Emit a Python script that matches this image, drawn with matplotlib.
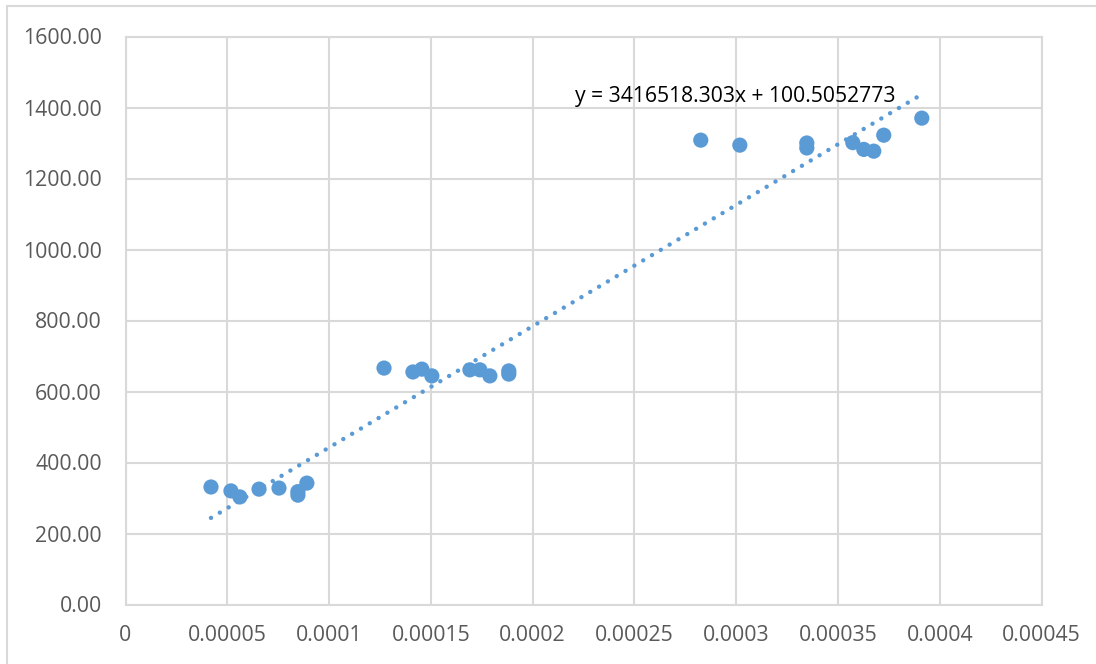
import numpy as np
import matplotlib
matplotlib.use("Agg")
import matplotlib.pyplot as plt
from matplotlib.patches import Rectangle

# 측정값 (x: 1/?, y: 값)
x_vals = [4.20e-5, 5.18e-5, 5.62e-5, 6.56e-5, 7.54e-5, 8.47e-5, 8.47e-5, 8.91e-5,
          1.270e-4, 1.412e-4, 1.456e-4, 1.505e-4, 1.692e-4, 1.741e-4, 1.790e-4,
          1.883e-4, 1.883e-4,
          2.826e-4, 3.018e-4, 3.347e-4, 3.347e-4, 3.573e-4, 3.627e-4, 3.676e-4,
          3.725e-4, 3.912e-4]
y_vals = [331, 320, 303, 325, 328, 318, 308, 342,
          666, 655, 663, 644, 661, 661, 644,
          658, 649,
          1308, 1294, 1300, 1286, 1301, 1282, 1277,
          1322, 1370]

# 추세선 계수
slope = 3416518.303
intercept = 100.5052773
eq_text = "y = 3416518.303x + 100.5052773"

x_ticks = [0, 0.00005, 0.0001, 0.00015, 0.0002, 0.00025, 0.0003, 0.00035, 0.0004, 0.00045]
x_labels = ["0", "0.00005", "0.0001", "0.00015", "0.0002", "0.00025", "0.0003", "0.00035", "0.0004", "0.00045"]
y_ticks = [0, 200, 400, 600, 800, 1000, 1200, 1400, 1600]

plt.rcParams['font.family'] = ['Open Sans', 'DejaVu Sans']

blue = "#5B9BD5"
grid_c = "#D9D9D9"

fig = plt.figure(figsize=(10.96, 6.64), dpi=100)
ax = fig.add_axes([125.5 / 1096, 59.5 / 664, (1041.5 - 125.5) / 1096, (604.5 - 36.5) / 664])

# 바깥 테두리
fig.patches.append(Rectangle((7 / 1096, -0.1), 1.2, (658 / 664) + 0.1,
                             transform=fig.transFigure, fill=False,
                             edgecolor=grid_c, linewidth=1.5))

# trendline
tx = np.linspace(min(x_vals), max(x_vals), 100)
ax.plot(tx, slope * tx + intercept, linestyle=(0, (0.01, 2.3)), color=blue,
        linewidth=3.2, dash_capstyle='round', zorder=2)

ax.scatter(x_vals, y_vals, s=120, color=blue, edgecolors='none', zorder=3)

ax.set_xlim(0, 0.00045)
ax.set_ylim(0, 1600)
ax.set_xticks(x_ticks)
ax.set_xticklabels(x_labels)
ax.set_yticks(y_ticks)
ax.set_yticklabels(["%.2f" % v for v in y_ticks])
ax.tick_params(length=0, labelsize=15.3, labelcolor="#595959")
ax.tick_params(axis='y', pad=17)
ax.tick_params(axis='x', pad=15)
ax.grid(True, color=grid_c, linewidth=1.5)
ax.set_axisbelow(True)
for s in ax.spines.values():
    s.set_color(grid_c)
    s.set_linewidth(1.5)

ax.text(0.000221, 1432, eq_text, fontsize=15.2, color="black", ha='left', va='center')

fig.savefig("out.png", dpi=100)
